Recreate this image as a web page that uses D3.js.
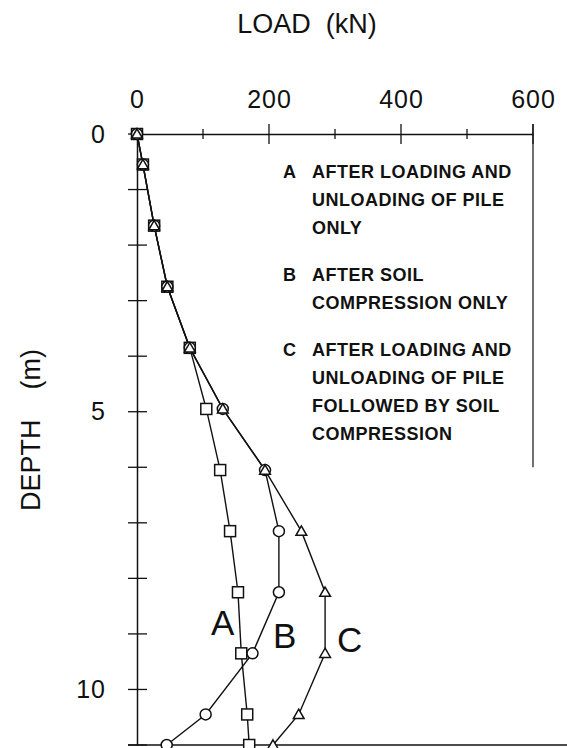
<!DOCTYPE html>
<html>
<head>
<meta charset="utf-8">
<script src="https://cdn.jsdelivr.net/npm/d3@7"></script>
<style>
  body { margin: 0; background: #fff; }
  svg text { font-family: "Liberation Sans", Arial, sans-serif; fill: #111; }
</style>
</head>
<body>
<div id="chart"></div>
<script>
  // Depths of the measurement points (m)
  const depths = [0, 0.55, 1.65, 2.75, 3.85, 4.95, 6.05, 7.15, 8.25, 9.35, 10.45, 11];
  // Load along the pile (kN)
  const loadA = [0, 9, 26, 46, 80, 105, 126, 141, 153, 158, 167, 170];
  const loadB = [0, 9, 26, 46, 80, 130, 194, 215, 215, 175, 104, 45];
  const loadC = [0, 9, 26, 46, 80, 130, 194, 249, 285, 285, 245, 206];

  const xTicksMajor = [0, 200, 400, 600];
  const xTicksMinor = [100, 300, 500];
  const yTicks = [1, 2, 3, 4, 5, 6, 7, 8, 9, 10, 11];
  const yTickLabels = [0, 5, 10];

  const legendRows = [
    { key: 'A', lines: ['AFTER LOADING AND', 'UNLOADING OF PILE', 'ONLY'] },
    { key: 'B', lines: ['AFTER SOIL', 'COMPRESSION ONLY'] },
    { key: 'C', lines: ['AFTER LOADING AND', 'UNLOADING OF PILE', 'FOLLOWED BY SOIL', 'COMPRESSION'] }
  ];

  // curve labels, in data units (load, depth)
  const curveLabels = [
    { text: 'A', load: 112, depth: 9.02 },
    { text: 'B', load: 206, depth: 9.25 },
    { text: 'C', load: 303, depth: 9.33 }
  ];

  const width = 567, height = 748;
  const svg = d3.select('#chart').append('svg')
    .attr('width', width)
    .attr('height', height);

  const x = d3.scaleLinear().domain([0, 600]).range([137, 533]);
  const y = d3.scaleLinear().domain([0, 11]).range([134, 745]);

  const ink = '#111';

  // Top axis (load)
  const topAxis = svg.append('g')
    .attr('transform', `translate(0,${y(0)})`)
    .call(d3.axisTop(x).tickValues(xTicksMajor).tickSize(0).tickPadding(26));
  topAxis.select('.domain').attr('stroke', ink).attr('stroke-width', 1.3);
  topAxis.selectAll('text').style('font-size', '25px').attr('fill', ink)
    .style('font-family', '"Liberation Sans", Arial, sans-serif')
    .style('letter-spacing', '1px');

  svg.append('g').selectAll('line')
    .data(xTicksMajor.slice(1))
    .enter().append('line')
    .attr('x1', d => x(d)).attr('x2', d => x(d))
    .attr('y1', y(0) - 10).attr('y2', y(0) + 10)
    .attr('stroke', ink).attr('stroke-width', 1.3);

  svg.append('g').selectAll('line')
    .data(xTicksMinor)
    .enter().append('line')
    .attr('x1', d => x(d)).attr('x2', d => x(d))
    .attr('y1', y(0) - 5).attr('y2', y(0) + 5)
    .attr('stroke', ink).attr('stroke-width', 1.3);

  // Left axis (depth)
  const leftAxis = svg.append('g')
    .attr('transform', `translate(${x(0)},0)`)
    .call(d3.axisLeft(y).tickValues(yTickLabels).tickSize(0).tickPadding(31));
  leftAxis.select('.domain').attr('stroke', ink).attr('stroke-width', 1.5);
  leftAxis.selectAll('text').style('font-size', '25px').attr('fill', ink)
    .style('font-family', '"Liberation Sans", Arial, sans-serif')
    .style('letter-spacing', '1px');

  svg.append('g').selectAll('line')
    .data(yTicks)
    .enter().append('line')
    .attr('x1', x(0) - 9).attr('x2', x(0) + 10)
    .attr('y1', d => y(d)).attr('y2', d => y(d))
    .attr('stroke', ink).attr('stroke-width', 1.3);

  // extend the zero line a little to the left like a tick
  svg.append('line')
    .attr('x1', x(0) - 9).attr('x2', x(0))
    .attr('y1', y(0)).attr('y2', y(0))
    .attr('stroke', ink).attr('stroke-width', 1.3);

  // right frame and bottom line
  svg.append('line')
    .attr('x1', x(600)).attr('x2', x(600))
    .attr('y1', y(0) - 10).attr('y2', y(6))
    .attr('stroke', ink).attr('stroke-width', 1.2);
  svg.append('line')
    .attr('x1', x(0) - 9).attr('x2', width)
    .attr('y1', y(11)).attr('y2', y(11))
    .attr('stroke', ink).attr('stroke-width', 1.5);

  // Axis titles
  svg.append('text')
    .attr('x', 307).attr('y', 33)
    .attr('text-anchor', 'middle')
    .style('font-size', '27px')
    .attr('xml:space', 'preserve')
    .text('LOAD  (kN)');

  svg.append('text')
    .attr('transform', 'translate(40,430) rotate(-90)')
    .attr('text-anchor', 'middle')
    .style('font-size', '27px')
    .attr('xml:space', 'preserve')
    .text('DEPTH    (m)');

  // Curves
  const series = [
    { name: 'A', values: loadA, symbol: 'square' },
    { name: 'B', values: loadB, symbol: 'circle' },
    { name: 'C', values: loadC, symbol: 'triangle' }
  ];

  const line = d3.line()
    .x(d => x(d.load))
    .y(d => y(d.depth));

  series.forEach(s => {
    const pts = depths.map((d, i) => ({ depth: d, load: s.values[i] }));
    svg.append('path')
      .datum(pts)
      .attr('d', line)
      .attr('fill', 'none')
      .attr('stroke', ink)
      .attr('stroke-width', 1.4);
  });

  series.forEach(s => {
    const pts = depths.map((d, i) => ({ depth: d, load: s.values[i] }));
    const g = svg.append('g');
    if (s.symbol === 'square') {
      g.selectAll('rect').data(pts).enter().append('rect')
        .attr('x', d => x(d.load) - 5.5).attr('y', d => y(d.depth) - 5.5)
        .attr('width', 11).attr('height', 11)
        .attr('fill', '#fff').attr('stroke', ink).attr('stroke-width', 1.5);
    } else if (s.symbol === 'circle') {
      g.selectAll('circle').data(pts).enter().append('circle')
        .attr('cx', d => x(d.load)).attr('cy', d => y(d.depth))
        .attr('r', 5.5)
        .attr('fill', '#fff').attr('stroke', ink).attr('stroke-width', 1.5);
    } else {
      const tri = d3.symbol().type(d3.symbolTriangle).size(50);
      g.selectAll('path').data(pts).enter().append('path')
        .attr('d', tri)
        .attr('transform', d => `translate(${x(d.load)},${y(d.depth) + 1})`)
        .attr('fill', '#fff').attr('stroke', ink).attr('stroke-width', 1.5);
    }
  });

  // Curve letters
  svg.append('g').selectAll('text')
    .data(curveLabels)
    .enter().append('text')
    .attr('x', d => x(d.load))
    .attr('y', d => y(d.depth))
    .style('font-size', '35px')
    .text(d => d.text);

  // Legend text
  const legend = svg.append('g');
  let baseline = 178;
  legendRows.forEach(r => {
    legend.append('text')
      .attr('x', 283).attr('y', baseline)
      .style('font-size', '18px').style('font-weight', 'bold')
      .text(r.key);
    r.lines.forEach((t, i) => {
      legend.append('text')
        .attr('x', 312).attr('y', baseline + i * 28)
        .style('font-size', '18px').style('font-weight', 'bold')
        .style('letter-spacing', '0.5px')
        .text(t);
    });
    baseline += (r.lines.length - 1) * 28 + 47;
  });
</script>
</body>
</html>
